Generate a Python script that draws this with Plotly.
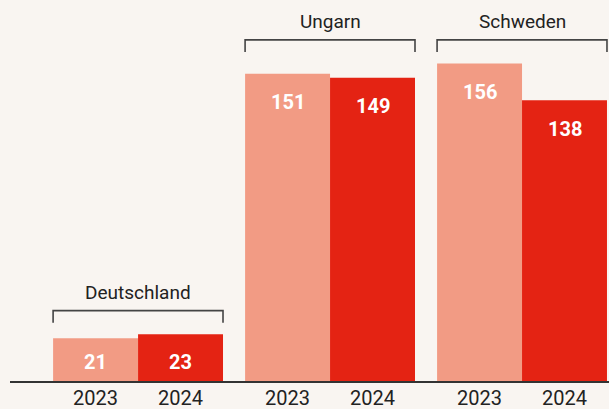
import plotly.graph_objects as go

countries = ["Deutschland", "Ungarn", "Schweden"]
years = ["2023", "2024"]
values_2023 = [21, 151, 156]
values_2024 = [23, 149, 138]

BG = "#f9f5f1"
C_LIGHT = "#f29b84"
C_RED = "#e42313"
TXT = "#222222"
FONT = "Roboto"

fig = go.Figure()
series = [(years[0], values_2023, C_LIGHT), (years[1], values_2024, C_RED)]
for name, vals, col in series:
    fig.add_trace(go.Bar(x=countries, y=vals, name=name, marker=dict(color=col, line=dict(width=0)),
                         hoverinfo="x+y"))

bargap = 0.115
half = (1 - bargap) / 2
shift_px = 42.5

annotations = []
for si, (name, vals, col) in enumerate(series):
    xs = -shift_px if si == 0 else shift_px
    for ci, c in enumerate(countries):
        v = vals[ci]
        annotations.append(dict(x=c, y=max(v - 14, 9.3), xref="x", yref="y", text=f"<b>{v}</b>",
                                showarrow=False, xshift=xs, font=dict(family=FONT, size=20, color="white"),
                                yanchor="middle"))
        annotations.append(dict(x=c, y=0, xref="x", yref="paper", text=name, showarrow=False,
                                xshift=xs, yshift=-3, yanchor="top",
                                font=dict(family=FONT, size=20, color=TXT)))

levels = [max(a, b) + 5.6 for a, b in zip(values_2023, values_2024)]
for i in range(len(levels)):
    for j in range(len(levels)):
        if abs(levels[i] - levels[j]) < 10:
            levels[i] = max(levels[i], levels[j])
shapes = []
tick_h = 6.0
for ci, c in enumerate(countries):
    lo = levels[ci]
    hi = lo + tick_h
    shapes.append(dict(type="path", xref="x", yref="y",
                       path=f"M {ci - half},{lo} L {ci - half},{hi} L {ci + half},{hi} L {ci + half},{lo}",
                       line=dict(color="#444444", width=1.6)))
    annotations.append(dict(x=c, y=hi, xref="x", yref="y", text=c, showarrow=False, yanchor="bottom",
                            yshift=5, font=dict(family=FONT, size=19, color=TXT)))

fig.update_layout(
    width=609, height=409,
    margin=dict(l=10, r=0, t=0, b=28, pad=0),
    paper_bgcolor=BG, plot_bgcolor=BG,
    barmode="group", bargap=bargap, bargroupgap=0,
    showlegend=False,
    xaxis=dict(range=[-0.667, 2.453], showticklabels=False, ticks="", showgrid=False,
               showline=True, linecolor="#333333", linewidth=2, zeroline=False, fixedrange=True),
    yaxis=dict(range=[0, 187.2], visible=False, showgrid=False, zeroline=False, fixedrange=True),
    annotations=annotations, shapes=shapes,
)
fig.write_html("out.html", config={"displayModeBar": False},
               post_script="document.body.style.margin='0';document.body.style.background='%s';" % BG)
